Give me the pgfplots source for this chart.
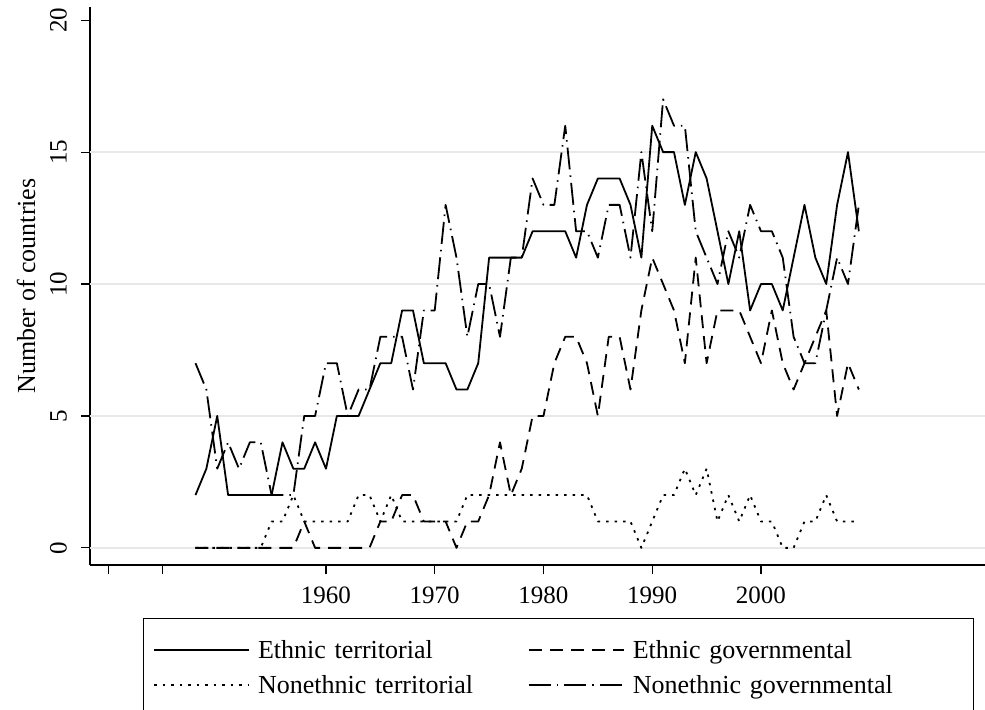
\documentclass[border=0pt]{standalone}
\usepackage{fontspec}
\setmainfont{Liberation Serif}
\usepackage{pgfplots}
\usepackage{pgfplotstable}
\pgfplotsset{compat=1.18}

% Number of countries with conflicts, by type, per year
\pgfplotstableread{
year et eg nt ng
1948 2 0 0 7
1949 3 0 0 6
1950 5 0 0 3
1951 2 0 0 4
1952 2 0 0 3
1953 2 0 0 4
1954 2 0 0 4
1955 2 0 1 2
1956 4 0 1 2
1957 3 0 2 2
1958 3 1 1 5
1959 4 0 1 5
1960 3 0 1 7
1961 5 0 1 7
1962 5 0 1 5
1963 5 0 2 6
1964 6 0 2 6
1965 7 1 1 8
1966 7 1 2 8
1967 9 2 1 8
1968 9 2 1 6
1969 7 1 1 9
1970 7 1 1 9
1971 7 1 1 13
1972 6 0 1 11
1973 6 1 2 8
1974 7 1 2 10
1975 11 2 2 10
1976 11 4 2 8
1977 11 2 2 11
1978 11 3 2 11
1979 12 5 2 14
1980 12 5 2 13
1981 12 7 2 13
1982 12 8 2 16
1983 11 8 2 12
1984 13 7 2 12
1985 14 5 1 11
1986 14 8 1 13
1987 14 8 1 13
1988 13 6 1 11
1989 11 9 0 15
1990 16 11 1 12
1991 15 10 2 17
1992 15 9 2 16
1993 13 7 3 16
1994 15 11 2 12
1995 14 7 3 11
1996 12 9 1 10
1997 10 9 2 12
1998 12 9 1 11
1999 9 8 2 13
2000 10 7 1 12
2001 10 9 1 12
2002 9 7 0 11
2003 11 6 0 8
2004 13 7 1 7
2005 11 8 1 7
2006 10 9 2 9
2007 13 5 1 11
2008 15 7 1 10
2009 12 6 1 13
}\conflicts

\newcommand{\lblfont}{\fontsize{26bp}{31bp}\selectfont}
\newcommand{\tickfont}{\fontsize{25bp}{30bp}\selectfont}

\begin{document}
\begin{tikzpicture}
\begin{axis}[
  scale only axis, width=895bp, height=558bp,
  xmin=1938.3, xmax=2020.6, ymin=-0.65, ymax=20.5,
  axis x line*=bottom, axis y line*=left,
  axis line style={line width=1.2bp, -},
  tick align=outside, major tick length=9bp,
  tick style={line width=1.2bp, black},
  xtick={1940,1945,1960,1970,1980,1990,2000},
  xticklabels={,,1960,1970,1980,1990,2000},
  ytick={0,5,10,15,20},
  extra y ticks={0,5,10,15}, extra y tick labels={},
  extra y tick style={grid=major, tick style={draw=none}},
  grid style={line width=1.5bp, color=black!9},
  /pgf/number format/assume math mode=true,
  tick label style={font=\tickfont},
  xticklabel style={anchor=north, inner sep=0pt, yshift=-13bp},
  yticklabel style={rotate=90, anchor=south, inner sep=0pt, yshift=14bp},
  ylabel={Number of countries},
  ylabel style={font=\lblfont, at={(axis description cs:-0.0715,0.5)}, anchor=center},
  legend columns=2,
  legend cell align=left,
  legend image code/.code={\draw[#1] (0bp,0bp) -- (95bp,0bp);},
  legend style={at={(axis description cs:0.5235,0)}, anchor=north, yshift=-53bp,
    draw=black, line width=1bp, font=\lblfont,
    inner xsep=10bp, inner ysep=20bp, row sep=11bp,
    nodes={inner xsep=8bp},
    /tikz/column 2/.style={nodes={text width=262bp}},
    /tikz/column 4/.style={nodes={text width=323bp}}},
  every axis plot/.append style={black, line width=1.8bp, line join=round, mark=none},
]
\addplot[solid] table[x=year, y=et] {\conflicts};
\addlegendentry{Ethnic territorial}
\addplot[dash pattern=on 13bp off 8bp] table[x=year, y=eg] {\conflicts};
\addlegendentry{Ethnic governmental}
\addplot[dash pattern=on 2.5bp off 6bp] table[x=year, y=nt] {\conflicts};
\addlegendentry{Nonethnic territorial}
\addplot[dash pattern=on 22bp off 6bp on 1.5bp off 6bp] table[x=year, y=ng] {\conflicts};
\addlegendentry{Nonethnic governmental}
\end{axis}
\pgfresetboundingbox
\path (-90bp,-145bp) rectangle (895bp,565bp);
\end{tikzpicture}
\end{document}
